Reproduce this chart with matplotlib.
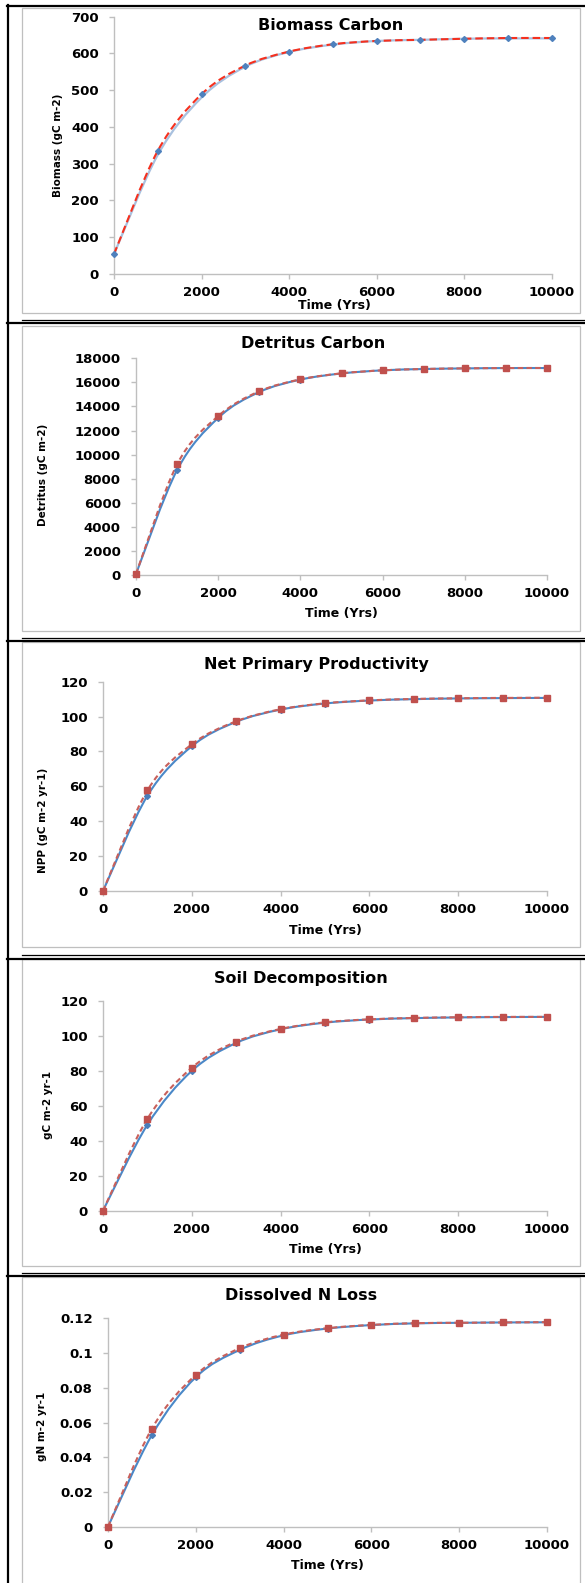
"""
Carbon / nitrogen spin-up runs over 10000 years, two model versions per pool.
Five stacked Excel-style panels inside a table frame.
"""

import numpy as np
import matplotlib
matplotlib.use("Agg")
import matplotlib.pyplot as plt
from matplotlib.path import Path
from matplotlib.patches import PathPatch, Rectangle
from matplotlib.lines import Line2D

plt.rcParams['font.family'] = ['DejaVu Sans']
plt.rcParams['font.weight'] = 'bold'

years = [0, 1000, 2000, 3000, 4000, 5000, 6000, 7000, 8000, 9000, 10000]
xticks = [0, 2000, 4000, 6000, 8000, 10000]

# biomass carbon (gC m-2)
biomass_a = [54, 324, 480, 564, 604, 624, 634, 637, 640, 641, 641]
biomass_b = [54, 335, 489, 567, 605, 625, 634, 637, 640, 642, 642]

# detritus carbon (gC m-2)
detritus_a = [90, 8720, 13050, 15200, 16230, 16740, 17000, 17110, 17160, 17190, 17190]
detritus_b = [90, 9190, 13200, 15260, 16250, 16750, 17000, 17110, 17165, 17190, 17195]

# net primary productivity (gC m-2 yr-1)
npp_a = [0, 54.6, 83.0, 97.0, 104.0, 107.5, 109.2, 110.0, 110.4, 110.6, 110.7]
npp_b = [0, 57.7, 84.1, 97.3, 104.2, 107.6, 109.3, 110.1, 110.5, 110.7, 110.8]

# soil decomposition (gC m-2 yr-1)
soil_a = [0, 49.2, 80.0, 96.0, 103.8, 107.6, 109.4, 110.2, 110.6, 110.8, 110.9]
soil_b = [0, 52.6, 81.8, 96.7, 104.0, 107.8, 109.5, 110.3, 110.7, 110.9, 110.9]

# dissolved N loss (gN m-2 yr-1)
nloss_a = [0, 0.0528, 0.0861, 0.1018, 0.1102, 0.1141, 0.1161, 0.1171, 0.1174, 0.1176, 0.1177]
nloss_b = [0, 0.0565, 0.0874, 0.1028, 0.1106, 0.1143, 0.1162, 0.1172, 0.1174, 0.1176, 0.1178]

titles = ["Biomass Carbon", "Detritus Carbon", "Net Primary Productivity",
          "Soil Decomposition", "Dissolved N Loss"]
ylabels = ["Biomass (gC m-2)", "Detritus (gC m-2)", "NPP (gC m-2 yr-1)",
           "gC m-2 yr-1", "gN m-2 yr-1"]
yticks = [
    [0, 100, 200, 300, 400, 500, 600, 700],
    [0, 2000, 4000, 6000, 8000, 10000, 12000, 14000, 16000, 18000],
    [0, 20, 40, 60, 80, 100, 120],
    [0, 20, 40, 60, 80, 100, 120],
    [0, 0.02, 0.04, 0.06, 0.08, 0.1, 0.12],
]
ytick_labels = [
    None, None, None, None,
    ["0", "0.02", "0.04", "0.06", "0.08", "0.1", "0.12"],
]
series = [(biomass_a, biomass_b), (detritus_a, detritus_b), (npp_a, npp_b),
          (soil_a, soil_b), (nloss_a, nloss_b)]

W, H = 585, 1583
fig = plt.figure(figsize=(W / 100, H / 100), dpi=100)

# pixel layout: axes box (x0, top, x1, bottom), title xy, xlabel y, ylabel xy, frame box (top, bottom)
layout = [
    dict(ax=(114, 16.7, 551.5, 274), title=(331, 25), xlab=(305), ylab=(58, 145), box=(8, 313)),
    dict(ax=(136, 358.3, 547, 575), title=(313, 343), xlab=(614), ylab=(43, 475), box=(326, 631)),
    dict(ax=(103, 681.7, 547, 891), title=(316, 664), xlab=(930), ylab=(43, 820), box=(642, 947)),
    dict(ax=(103, 1001, 547, 1210.7), title=(301, 978), xlab=(1249), ylab=(48, 1105), box=(959, 1266)),
    dict(ax=(108, 1318.3, 547, 1526.7), title=(301, 1295), xlab=(1566), ylab=(42, 1426), box=(1277, 1590)),
]


def fx(x):
    return x / W


def fy(y):
    return 1 - y / H


def smooth_path(x, y):
    # cubic bezier through the points, like Excel's smoothed line
    pts = np.column_stack([x, y]).astype(float)
    n = len(pts)
    verts = [pts[0]]
    codes = [Path.MOVETO]
    for i in range(n - 1):
        p0 = pts[max(i - 1, 0)]
        p1 = pts[i]
        p2 = pts[i + 1]
        p3 = pts[min(i + 2, n - 1)]
        verts += [p1 + (p2 - p0) / 6, p2 - (p3 - p1) / 6, p2]
        codes += [Path.CURVE4] * 3
    return Path(verts, codes)


for i, lay in enumerate(layout):
    x0, top, x1, bot = lay['ax']
    ax = fig.add_axes([fx(x0), fy(bot), (x1 - x0) / W, (bot - top) / H])
    ya, yb = series[i]

    if i == 0:
        blue_col, blue_lw = '#A9C1DF', 1.6
        red_col, red_dash = '#F5301E', (0, (3.6, 1.9))
    else:
        blue_col, blue_lw = '#4A88C8', 1.5
        red_col, red_dash = '#C9605B', (0, (2.6, 1.6))

    ax.add_patch(PathPatch(smooth_path(years, ya), fill=False, edgecolor=blue_col,
                           lw=blue_lw, clip_on=False, zorder=2))
    ax.add_patch(PathPatch(smooth_path(years, yb), fill=False, edgecolor=red_col,
                           lw=1.5, linestyle=red_dash, clip_on=False, zorder=3))

    if i == 0:
        ax.plot(years, yb, linestyle='none', marker='D', ms=3.0, color='#4F81BD',
                mec='#4F81BD', clip_on=False, zorder=4)
    else:
        ax.plot(years, ya, linestyle='none', marker='D', ms=3.0, color='#4A7EBB',
                mec='#4A7EBB', clip_on=False, zorder=4)
        ax.plot(years, yb, linestyle='none', marker='s', ms=4.4, color='#C0504D',
                mec='#C0504D', clip_on=False, zorder=5)

    ax.set_xlim(0, 10000)
    ax.set_ylim(yticks[i][0], yticks[i][-1])
    ax.set_xticks(xticks)
    ax.set_xticklabels([str(t) for t in xticks])
    ax.set_yticks(yticks[i])
    if ytick_labels[i] is not None:
        ax.set_yticklabels(ytick_labels[i])
    else:
        ax.set_yticklabels([str(t) for t in yticks[i]])

    for side in ('top', 'right'):
        ax.spines[side].set_visible(False)
    for side in ('left', 'bottom'):
        ax.spines[side].set_color('#BFBFBF')
        ax.spines[side].set_linewidth(1.0)
    ax.tick_params(axis='both', colors='#BFBFBF', labelcolor='black', labelsize=9.5,
                   length=3.5, width=1.0, direction='out')
    ax.tick_params(axis='x', pad=5)
    ax.tick_params(axis='y', pad=7.5)
    for lbl in ax.get_xticklabels() + ax.get_yticklabels():
        lbl.set_fontweight('bold')
    ax.patch.set_alpha(0)

    tx, ty = lay['title']
    fig.text(fx(tx), fy(ty), titles[i], ha='center', va='center',
             fontsize=11.5, fontweight='bold')
    fig.text(fx((x0 + x1) / 2 + (2 if i == 0 else 0)), fy(lay['xlab']), "Time (Yrs)",
             ha='center', va='center', fontsize=9, fontweight='bold')
    lx, ly = lay['ylab']
    fig.text(fx(lx), fy(ly), ylabels[i], ha='center', va='center', rotation=90,
             fontsize=7.5, fontweight='bold')

    # light grey chart frame
    btop, bbot = lay['box']
    fig.add_artist(Rectangle((fx(22), fy(bbot)), (580 - 22) / W, (bbot - btop) / H,
                             transform=fig.transFigure, fill=False,
                             edgecolor='#BFBFBF', lw=0.9))

# table frame: left rule, top rule and double rules between cells
fig.add_artist(Line2D([fx(7.5), fx(7.5)], [fy(5), fy(H)], transform=fig.transFigure,
                      color='black', lw=1.6))
fig.add_artist(Line2D([fx(7), fx(W)], [fy(5.5), fy(5.5)], transform=fig.transFigure,
                      color='black', lw=1.6))
for thin_y, thick_y in [(320, 323), (638, 641), (955, 958.5), (1273, 1276)]:
    fig.add_artist(Line2D([fx(22), fx(W)], [fy(thin_y), fy(thin_y)],
                          transform=fig.transFigure, color='black', lw=0.9))
    fig.add_artist(Line2D([fx(7), fx(W)], [fy(thick_y), fy(thick_y)],
                          transform=fig.transFigure, color='black', lw=1.6))

fig.savefig('out.png', dpi=100, facecolor='white')
